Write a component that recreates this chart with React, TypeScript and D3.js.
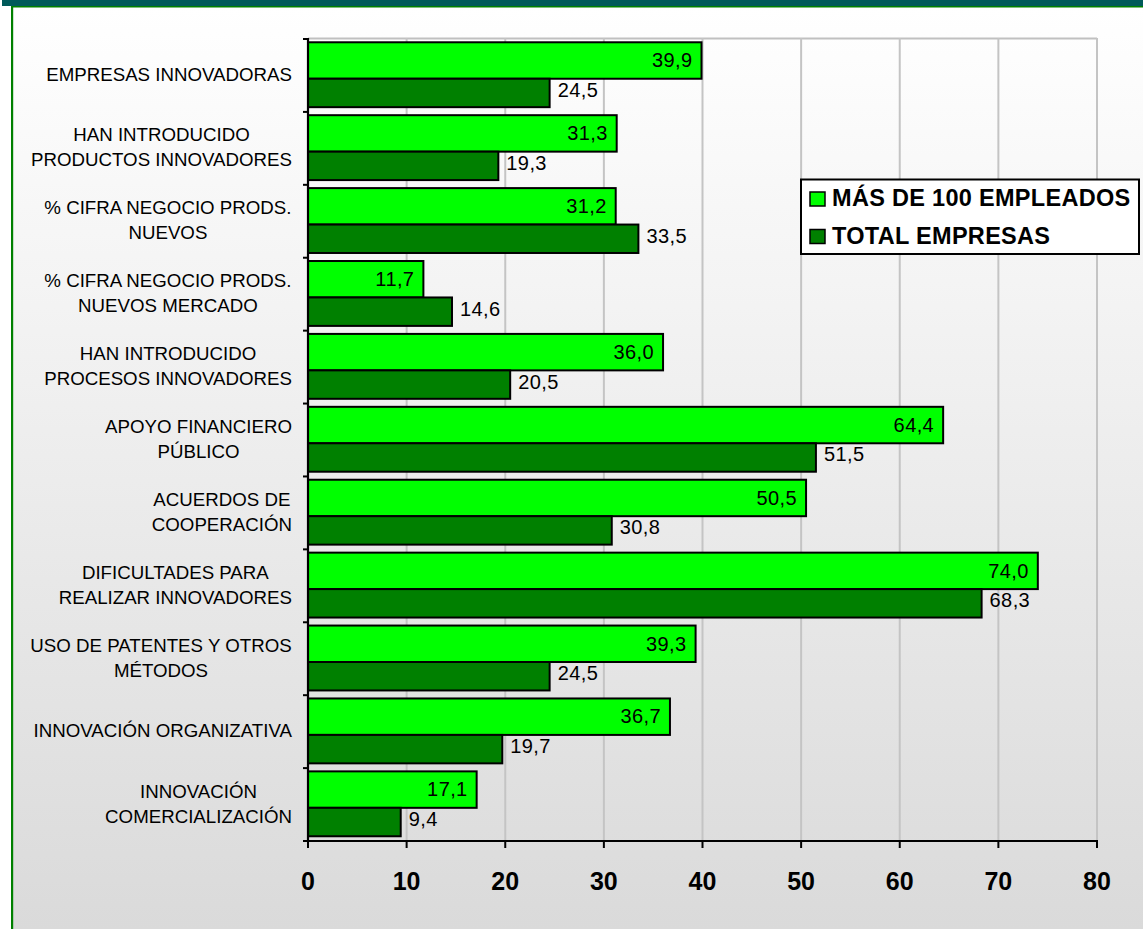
import React from "react";
import * as d3 from "d3";

const categories: string[][] = [
  ["EMPRESAS INNOVADORAS"],
  ["HAN INTRODUCIDO", "PRODUCTOS INNOVADORES"],
  ["% CIFRA NEGOCIO PRODS.", "NUEVOS"],
  ["% CIFRA NEGOCIO PRODS.", "NUEVOS MERCADO"],
  ["HAN INTRODUCIDO", "PROCESOS INNOVADORES"],
  ["APOYO FINANCIERO", "PÚBLICO"],
  ["ACUERDOS DE", "COOPERACIÓN"],
  ["DIFICULTADES PARA", "REALIZAR INNOVADORES"],
  ["USO DE PATENTES Y OTROS", "MÉTODOS"],
  ["INNOVACIÓN ORGANIZATIVA"],
  ["INNOVACIÓN", "COMERCIALIZACIÓN"],
];
const mas100: number[] = [39.9, 31.3, 31.2, 11.7, 36.0, 64.4, 50.5, 74.0, 39.3, 36.7, 17.1];
const total: number[] = [24.5, 19.3, 33.5, 14.6, 20.5, 51.5, 30.8, 68.3, 24.5, 19.7, 9.4];
const xTicks: number[] = [0, 10, 20, 30, 40, 50, 60, 70, 80];
const seriesNames: string[] = ["MÁS DE 100 EMPLEADOS", "TOTAL EMPRESAS"];

const W = 1143;
const H = 929;
const FONT = "'Liberation Sans', Arial, sans-serif";
const LIGHT = "#00ff00";
const DARK = "#008000";

let ctx: CanvasRenderingContext2D | null = null;
function measure(text: string, font: string): number {
  if (!ctx) ctx = document.createElement("canvas").getContext("2d");
  if (!ctx) return text.length * 9;
  ctx.font = font;
  return ctx.measureText(text).width;
}

export default function App() {
  const x = d3.scaleLinear().domain([0, 80]).range([308, 1097]);
  const y = d3
    .scaleBand<number>()
    .domain(d3.range(categories.length))
    .range([39, 841])
    .padding(0);
  const bw = y.bandwidth();
  const fmt = (v: number) => v.toFixed(1).replace(".", ",");
  const catFontSize = 18.7;
  const valFontSize = 20;

  return (
    <svg
      width={W}
      height={H}
      style={{ position: "absolute", left: 0, top: 0, display: "block" }}
      fontFamily={FONT}
    >
      <defs>
        <linearGradient id="bg" x1="0" y1="0" x2="0" y2="1">
          <stop offset="0" stopColor="#ffffff" />
          <stop offset="1" stopColor="#dadada" />
        </linearGradient>
      </defs>
      <rect x={0} y={0} width={W} height={H} fill="#ffffff" />
      <rect x={13} y={7} width={W - 13} height={H - 7} fill="url(#bg)" />
      <rect x={2} y={0} width={W - 2} height={6} fill="#005a5a" />
      <rect x={11} y={6} width={W - 11} height={1.5} fill="#008000" />
      <rect x={11} y={6} width={2.2} height={H - 6} fill="#008000" />

      {/* top plot border */}
      <line x1={x(0)} x2={x(80)} y1={38.5} y2={38.5} stroke="#c0c0c0" strokeWidth={2} />
      {/* gridlines */}
      {xTicks.filter((t) => t > 0).map((t) => (
        <line key={t} x1={x(t)} x2={x(t)} y1={38} y2={841} stroke="#c4c4c4" strokeWidth={2} />
      ))}

      {/* bars */}
      {categories.map((_, i) => {
        const y0 = y(i)!;
        const l0 = y0 + bw * 0.045;
        const l1 = y0 + bw * 0.545;
        const d1 = y0 + bw * 0.935;
        return (
          <g key={i}>
            <rect x={x(0)} y={l0} width={x(mas100[i]) - x(0)} height={l1 - l0} fill={LIGHT} stroke="#000" strokeWidth={2} />
            <rect x={x(0)} y={l1} width={x(total[i]) - x(0)} height={d1 - l1} fill={DARK} stroke="#000" strokeWidth={2} />
            <text x={x(mas100[i]) - 9} y={(l0 + l1) / 2 + 6.8} textAnchor="end" fontSize={valFontSize} letterSpacing={0.4} fill="#000">
              {fmt(mas100[i])}
            </text>
            <text x={x(total[i]) + 8} y={(l1 + d1) / 2 + 4} textAnchor="start" fontSize={valFontSize} letterSpacing={0.4} fill="#000">
              {fmt(total[i])}
            </text>
          </g>
        );
      })}

      {/* category labels */}
      {categories.map((lines, i) => {
        const cy = y(i)! + bw / 2;
        const font = `${catFontSize}px ${FONT}`;
        const maxW = Math.max(...lines.map((l) => measure(l, font)));
        const cx = 292 - maxW / 2;
        const lh = 25;
        const firstBase = cy + 5.5 - ((lines.length - 1) * lh) / 2;
        return (
          <text key={i} fontSize={catFontSize} textAnchor="middle" fill="#000">
            {lines.map((l, k) => (
              <tspan key={k} x={cx} y={firstBase + k * lh}>
                {l}
              </tspan>
            ))}
          </text>
        );
      })}

      {/* left axis */}
      <line x1={x(0)} x2={x(0)} y1={38} y2={842} stroke="#000" strokeWidth={2.2} />
      {d3.range(categories.length + 1).map((k) => {
        const yy = 39 + k * bw;
        return <line key={k} x1={x(0) - 5} x2={x(0)} y1={yy} y2={yy} stroke="#000" strokeWidth={2} />;
      })}
      {/* bottom axis */}
      <line x1={x(0) - 1} x2={x(80) + 1} y1={841} y2={841} stroke="#000" strokeWidth={2.2} />
      {xTicks.map((t) => (
        <g key={t}>
          <line x1={x(t)} x2={x(t)} y1={841} y2={848} stroke="#000" strokeWidth={2} />
          <text x={x(t)} y={890} textAnchor="middle" fontSize={25} fontWeight="bold" fill="#000">
            {t}
          </text>
        </g>
      ))}

      {/* legend */}
      <rect x={801} y={179.5} width={338} height={74.5} fill="#ffffff" stroke="#000" strokeWidth={2} />
      {seriesNames.map((s, k) => {
        const base = 206 + k * 37.5;
        return (
          <g key={s}>
            <rect x={810} y={base - 14} width={15} height={14} fill={k === 0 ? LIGHT : DARK} stroke="#000" strokeWidth={1.5} />
            <text x={832} y={base} fontSize={23.5} letterSpacing={0.3} fontWeight="bold" fill="#000">
              {s}
            </text>
          </g>
        );
      })}
    </svg>
  );
}
